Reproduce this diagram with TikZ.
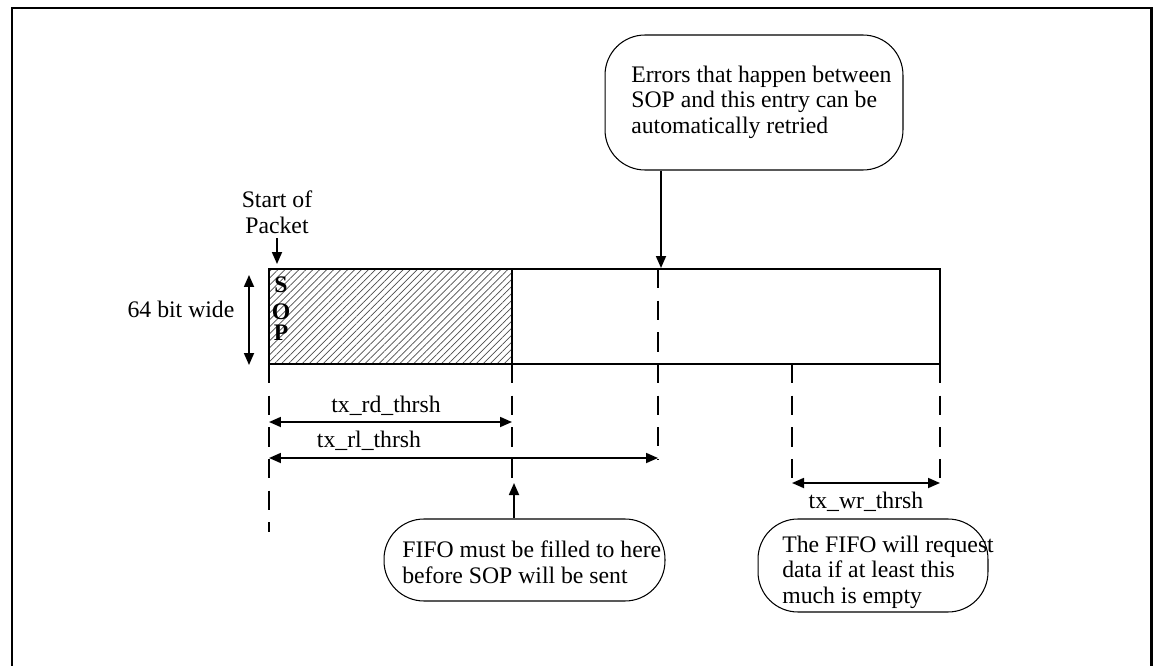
\documentclass[tikz,border=0pt]{standalone}
\usepackage{fontspec}
\setmainfont{Liberation Serif}
\usetikzlibrary{arrows.meta, patterns.meta, positioning, calc}

\tikzset{
    callout/.style={draw, line width=0.6pt, rounded corners=0.8cm, inner sep=0pt},
    note/.style={inner sep=0pt, align=left},
    dimline/.style={line width=1pt, <->},
    guide/.style={line width=1pt, dash pattern=on 11pt off 7pt},
    pointer/.style={line width=1pt, ->}
}

\begin{document}
\begin{tikzpicture}[x=0.02cm, y=-0.02cm, >={Triangle[length=0.24cm, width=0.2cm]},
    font=\fontsize{13.5}{14.5}\selectfont]
    \useasboundingbox (0,0) rectangle (1154,666);

    % Outer frame, open at the bottom
    \draw[line width=1.7pt] (12,666) -- (12,8) -- (1151,8) -- (1151,666);

    % FIFO buffer
    \coordinate (sop) at (269,269);
    \coordinate (rd) at (512,269);
    \coordinate (endR) at (940,364);
    \fill[pattern={Lines[angle=45, distance=2.8pt, line width=0.4pt]}, pattern color=black!70]
        (sop) rectangle (rd |- endR);
    \draw[line width=1.1pt] (sop) rectangle (endR);
    \draw[line width=1.1pt] (rd) -- (rd |- endR);

    % SOP letters
    \node[font=\fontsize{13.5}{14.5}\selectfont\bfseries, anchor=base] (lS) at (281,292) {S};
    \node[font=\fontsize{13.5}{14.5}\selectfont\bfseries, anchor=base] (lO) at (281,319) {O};
    \node[font=\fontsize{13.5}{14.5}\selectfont\bfseries, anchor=base] (lP) at (281,340) {P};

    % Width of the buffer
    \node[anchor=base] (width) at (181,317) {64 bit wide};
    \coordinate (wTop) at (249,275);
    \coordinate (wBot) at (249,365);
    \draw[dimline] (wTop) -- (wBot);

    % Start of packet marker
    \node[align=center, anchor=base] (start) at (277,233) {Start of\\Packet};
    \coordinate (startTip) at (277,264);
    \draw[pointer] (start.south |- 0,238) -- (startTip);

    % Dashed guide lines
    \coordinate (rl) at (658,269);
    \coordinate (wr) at (792,364);
    \draw[guide] (sop |- endR) -- (269,532);
    \draw[guide] (rd |- endR) -- (512,482);
    \draw[guide] (rl) -- (658,460);
    \draw[guide] (wr) -- (792,487);
    \draw[guide] (endR) -- (940,487);

    % Thresholds
    \coordinate (rdL) at (269,422);
    \coordinate (rdR) at (512,422);
    \draw[dimline] (rdL) -- (rdR);
    \node[anchor=base] (rdText) at (386,412) {tx\_rd\_thrsh};

    \coordinate (rlL) at (269,458);
    \coordinate (rlR) at (658,458);
    \draw[dimline] (rlL) -- (rlR);
    \node[anchor=base] (rlText) at (369,447) {tx\_rl\_thrsh};

    \coordinate (wrL) at (792,483);
    \coordinate (wrR) at (940,483);
    \draw[dimline] (wrL) -- (wrR);
    \node[anchor=base] (wrText) at (866,508) {tx\_wr\_thrsh};

    % Callout: retry window
    \node[callout, minimum width=5.96cm, minimum height=2.7cm] (errBox) at (754,102.5) {};
    \node[note, anchor=base west] (errText) at (631,133)
        {Errors that happen between\\SOP and this entry can be\\automatically retried};
    \coordinate (errTip) at (661,268);
    \draw[pointer] (errBox.south -| errTip) -- (errTip);

    % Callout: read threshold
    \node[callout, minimum width=5.62cm, minimum height=1.64cm] (fillBox) at (524.5,560) {};
    \node[note, anchor=base west] (fillText) at (402,583)
        {FIFO must be filled to here\\before SOP will be sent};
    \coordinate (fillTip) at (514,483);
    \draw[pointer] (fillBox.north -| fillTip) -- (fillTip);

    % Callout: write threshold
    \node[callout, minimum width=4.6cm, minimum height=1.86cm] (reqBox) at (873,565.5) {};
    \node[note, anchor=base west] (reqText) at (782,603)
        {The FIFO will request\\data if at least this\\much is empty};
\end{tikzpicture}
\end{document}
